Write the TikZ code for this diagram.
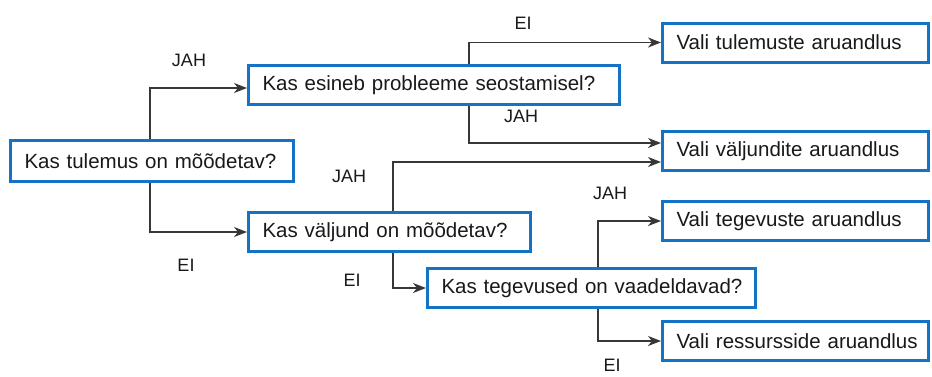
\documentclass[tikz,border=0pt]{standalone}
\usepackage{fontspec}
\setmainfont{Liberation Sans}
\usetikzlibrary{arrows.meta}
\definecolor{boxblue}{RGB}{22,114,196}
\definecolor{linegray}{RGB}{55,55,55}
\definecolor{inkcol}{RGB}{25,25,25}
\begin{document}
\begin{tikzpicture}[x=1pt,y=-1pt,
  box/.style={draw=boxblue, line width=3pt, fill=white, rectangle,
    minimum height=39pt, inner xsep=14pt, inner ysep=0pt, align=left,
    text=inkcol, font=\fontsize{20.5}{24}\selectfont},
  arr/.style={draw=linegray, line width=1.5pt,
    -{Stealth[length=13pt,width=10pt,inset=4pt]}},
  lbl/.style={text=inkcol, inner sep=0pt, font=\fontsize{18}{20}\selectfont}]
\useasboundingbox (0,0) rectangle (932,376);

% question boxes
\node[box, text width=255pt, minimum height=41pt] (a) at (152,161) {\mbox{Kas tulemus on mõõdetav?}};
\node[box, text width=343pt] (b) at (434,85) {\mbox{Kas esineb probleeme seostamisel?}};
\node[box, text width=254pt] (c) at (389.5,232) {\mbox{Kas väljund on mõõdetav?}};
\node[box, text width=300pt] (d) at (591.5,288) {\mbox{Kas tegevused on vaadeldavad?}};

% reporting choices
\node[box, text width=238pt] (r1) at (795.5,42.5) {\mbox{Vali tulemuste aruandlus}};
\node[box, text width=238pt] (r2) at (795.5,151) {\mbox{Vali väljundite aruandlus}};
\node[box, text width=238pt] (r3) at (795.5,221) {\mbox{Vali tegevuste aruandlus}};
\node[box, text width=238pt] (r4) at (795.5,341) {\mbox{Vali ressursside aruandlus}};

% connectors
\draw[arr] ([xshift=-2pt]a.north) |- ([yshift=-3pt]b.west);
\draw[arr] ([xshift=-2pt]a.south) |- (c.west);
\draw[arr] ([xshift=35pt]b.north) |- (r1.west);
\draw[arr] ([xshift=35pt]b.south) |- ([yshift=8pt]r2.west);
\draw[arr] ([xshift=3.5pt]c.north) |- ([yshift=-11pt]r2.west);
\draw[arr] ([xshift=3.5pt]c.south) |- (d.west);
\draw[arr] ([xshift=6.5pt]d.north) |- (r3.west);
\draw[arr] ([xshift=6.5pt]d.south) |- (r4.west);

% branch labels
\node[lbl] (l1) at (189,60) {JAH};
\node[lbl] (l2) at (186,265) {EI};
\node[lbl] (l3) at (523,23) {EI};
\node[lbl] (l4) at (521,116) {JAH};
\node[lbl] (l5) at (349,176) {JAH};
\node[lbl] (l6) at (352,280) {EI};
\node[lbl] (l7) at (610,193) {JAH};
\node[lbl] (l8) at (612,365) {EI};
\end{tikzpicture}
\end{document}
